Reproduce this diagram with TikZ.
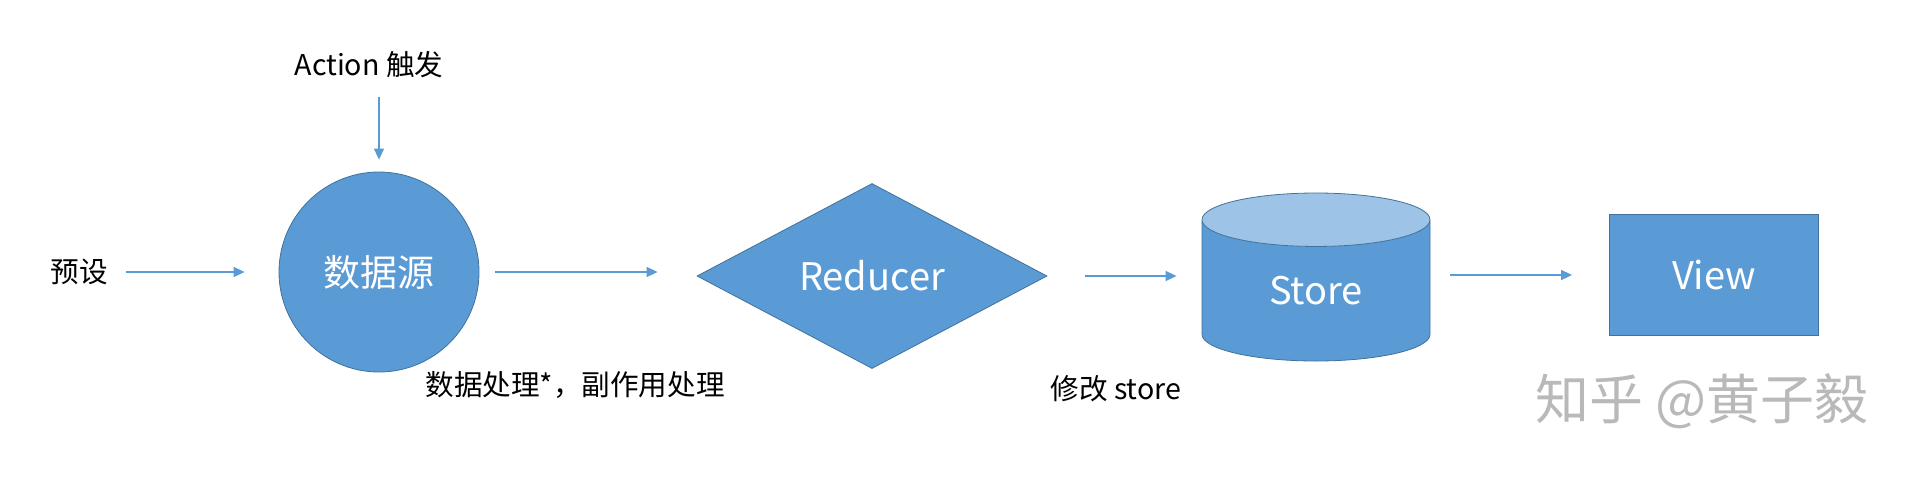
\documentclass[tikz,border=0pt]{standalone}
\usepackage{fontspec}
\setmainfont{Noto Sans CJK SC}
\usepackage{tikz}
\usetikzlibrary{positioning,shapes.geometric,arrows.meta}
\definecolor{boxblue}{HTML}{5B9BD5}
\definecolor{edgeblue}{HTML}{41719C}
\definecolor{topblue}{HTML}{9DC3E6}

\begin{document}
\begin{tikzpicture}[x=0.5pt,y=-0.5pt,
roundnode/.style={circle, fill=boxblue, draw=edgeblue, thin, minimum size=100pt, inner sep=0pt, text=white, font=\fontsize{18.5}{22}\selectfont},
diamondnode/.style={diamond, fill=boxblue, draw=edgeblue, thin, minimum width=175pt, minimum height=92.5pt, inner sep=0pt, text=white, font=\fontsize{19}{22}\selectfont},
storenode/.style={cylinder, shape border rotate=90, aspect=0.57, cylinder uses custom fill, cylinder body fill=boxblue, cylinder end fill=topblue, draw=edgeblue, thin, minimum width=114pt, minimum height=84pt, inner sep=0pt, text=white, font=\fontsize{19}{22}\selectfont},
squarenode/.style={rectangle, fill=boxblue, draw=edgeblue, thin, minimum width=104.5pt, minimum height=60.5pt, inner sep=0pt, text=white, font=\fontsize{19}{22}\selectfont},
labelnode/.style={inner sep=0pt, font=\fontsize{14.3}{17}\selectfont},
flow/.style={draw=boxblue, line width=0.8pt, -{Triangle[length=5.5pt,width=5pt]}},
]
\useasboundingbox (0,0) rectangle (1924,484);
%Nodes
\node[labelnode](preset) at (79,272){预设};
\node[labelnode](action) at (369,65){Action 触发};
\node[roundnode](src) at (379,272){数据源};
\node[diamondnode](reducer) at (872,276){Reducer};
\node[storenode, anchor=shape center](store) at (1316,277){Store};
\node[squarenode](view) at (1714,275){View};
\node[labelnode, anchor=west](handle) at (425,385){数据处理*，副作用处理};
\node[labelnode, anchor=west](modify) at (1050,389){修改 store};
\node[inner sep=0pt, text=gray!55, font=\fontsize{27}{30}\selectfont](mark) at (1702,401){知乎 @黄子毅};

\draw[flow, shorten <=9pt, shorten >=17pt](preset.east) -- (src.west);
\draw[flow, shorten <=9pt, shorten >=6pt](src.north |- action.south) -- (src.north);
\draw[flow, shorten <=8pt, shorten >=19.5pt](src.east) -- (src.east -| reducer.west);
\draw[flow, shorten <=19pt, shorten >=12.5pt](reducer.east) -- (reducer.east -| store.west);
\draw[flow, shorten <=10pt, shorten >=18.5pt](store.east |- view.west) -- (view.west);
\end{tikzpicture}
\end{document}
